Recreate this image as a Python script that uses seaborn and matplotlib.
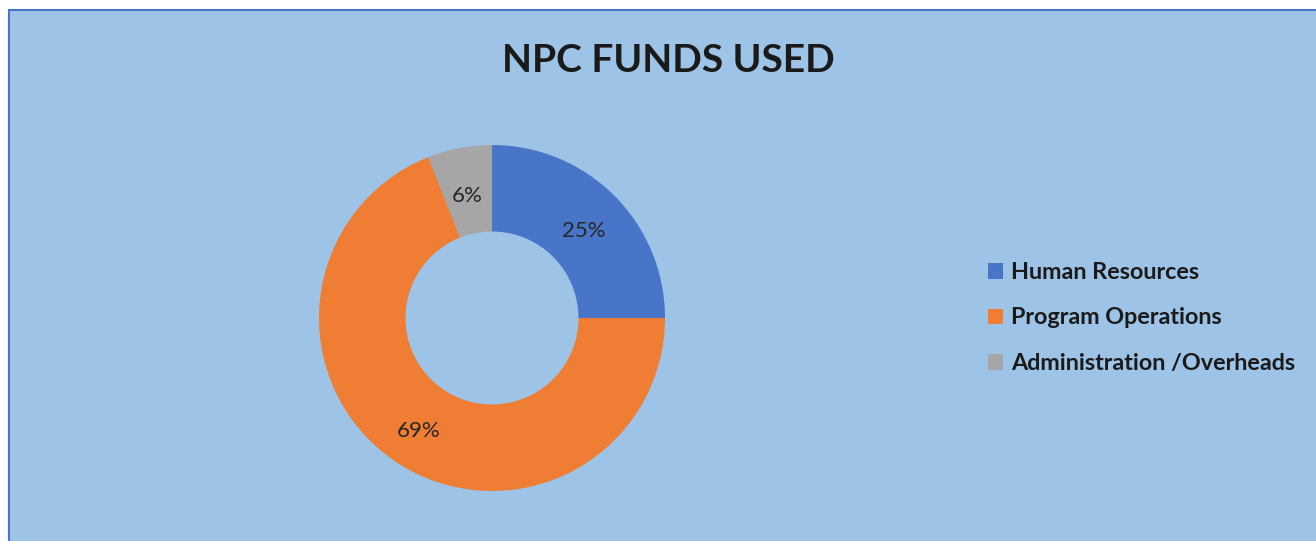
import seaborn as sns
import matplotlib.pyplot as plt
from matplotlib.patches import Rectangle, Patch

categorias = ['Human Resources', 'Program Operations', 'Administration /Overheads']
valores = [25, 69, 6]
colores = ['#4875C8', '#EF7D33', '#A6A6A6']

sns.set_style('white')
plt.rcParams['font.family'] = ['Lato', 'DejaVu Sans']

fig = plt.figure(figsize=(13.16, 5.41), dpi=100)
fig.patch.set_facecolor('white')

# fondo del grafico con borde
fondo = Rectangle((9 / 1316, -0.01), 1.0, 1 - 10 / 541 + 0.01, transform=fig.transFigure,
                  facecolor='#9DC3E6', edgecolor='#4A74C9', linewidth=1.5, zorder=-5)
fig.patches.append(fondo)

# donut
cx, cy, r = 492, 318, 173
ax = fig.add_axes([(cx - r) / 1316, (541 - cy - r) / 541, 2 * r / 1316, 2 * r / 541])
ax.set_facecolor('none')
ax.set_zorder(2)
wedges, textos, pcts = ax.pie(valores, colors=sns.color_palette(colores), startangle=90,
                              counterclock=False, radius=1, autopct='%1.0f%%', pctdistance=0.75,
                              wedgeprops=dict(width=0.5, edgecolor='none'),
                              textprops=dict(fontsize=16, color='#262626'))
for t in pcts:
    t.set_y(t.get_position()[1] - 0.03)
ax.set_xlim(-1, 1)
ax.set_ylim(-1, 1)
ax.axis('off')

fig.text(668 / 1316, 1 - 60 / 541, 'NPC FUNDS USED', ha='center', va='center',
         fontsize=28, fontweight='bold', color='#1a1a1a')

handles = [Patch(facecolor=c, edgecolor='none') for c in colores]
leg = fig.legend(handles, categorias, loc='center left', bbox_to_anchor=(967 / 1316, 1 - 318 / 541),
                 frameon=False, handlelength=0.65, handleheight=0.65, handletextpad=0.35,
                 labelspacing=1.05, prop=dict(weight='bold', size=16.8))
for t in leg.get_texts():
    t.set_color('#1a1a1a')

plt.savefig('out.png', dpi=100)
